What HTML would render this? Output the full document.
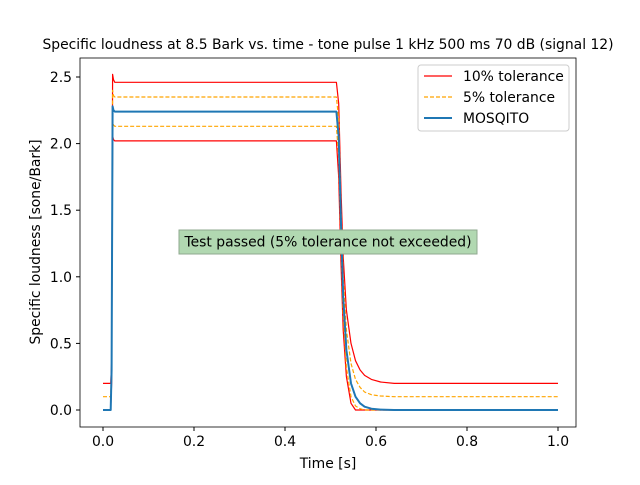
<!DOCTYPE html>
<html><head><meta charset="utf-8"><style>
body{margin:0;background:#fff}
svg{font-family:"DejaVu Sans","Liberation Sans",sans-serif}
</style></head><body>
<svg id="c" width="640" height="480" viewBox="0 0 640 480">
<rect width="640" height="480" fill="#fff"/>
<text x="328" y="49" text-anchor="middle" font-size="13.9">Specific loudness at 8.5 Bark vs. time - tone pulse 1 kHz 500 ms 70 dB (signal 12)</text>
<g id="series"></g>
<g id="axes"></g>
<rect x="80" y="58" width="496" height="369" fill="none" stroke="#000" stroke-width="0.8"/>
<text x="328" y="468" text-anchor="middle" font-size="13.9">Time [s]</text>
<text transform="translate(40,242) rotate(-90)" text-anchor="middle" font-size="13.9">Specific loudness [sone/Bark]</text>
<g>
<rect x="179" y="230" width="298" height="24" fill="#b1d8b1" stroke="#8fa88f" stroke-width="1"/>
<text x="328" y="246.5" text-anchor="middle" font-size="13.9">Test passed (5% tolerance not exceeded)</text>
</g>
<g>
<rect x="418" y="65" width="151" height="66" rx="3" fill="#fff" fill-opacity="0.85" stroke="#ccc"/>
<line x1="424" y1="76" x2="452" y2="76" stroke="#f00" stroke-width="1.2"/>
<text x="463" y="81" font-size="13.9">10% tolerance</text>
<line x1="424" y1="97" x2="452" y2="97" stroke="orange" stroke-width="1.2" stroke-dasharray="4,2"/>
<text x="463" y="102" font-size="13.9">5% tolerance</text>
<line x1="424" y1="118" x2="452" y2="118" stroke="#1f77b4" stroke-width="2"/>
<text x="463" y="123" font-size="13.9">MOSQITO</text>
</g>
</svg>
<script>
const times=[0,0.017,0.019,0.021,0.023,0.026,0.03,0.04,0.513,0.518,0.523,0.528,0.535,0.545,0.555,0.565,0.575,0.59,0.61,0.64,0.7,1.0];
const mosqito=[0,0,0.3,2.28,2.25,2.24,2.24,2.24,2.24,2.05,1.4,0.85,0.45,0.2,0.1,0.05,0.025,0.01,0.003,0,0,0];
const upper10=[0.2,0.2,0.35,2.52,2.48,2.46,2.46,2.46,2.46,2.3,1.65,1.15,0.75,0.5,0.37,0.3,0.26,0.23,0.21,0.2,0.2,0.2];
const lower10=[0,0,0.2,2.06,2.03,2.02,2.02,2.02,2.02,1.75,1.1,0.6,0.25,0.05,0,0,0,0,0,0,0,0];
const upper5=[0.1,0.1,0.3,2.4,2.36,2.35,2.35,2.35,2.35,2.18,1.5,1.0,0.6,0.35,0.23,0.17,0.135,0.115,0.105,0.1,0.1,0.1];
const lower5=[0,0,0.25,2.17,2.14,2.13,2.13,2.13,2.13,1.9,1.25,0.72,0.32,0.1,0.03,0.01,0,0,0,0,0,0];
const xTicks=[0,0.2,0.4,0.6,0.8,1.0];
const xTickLabels=["0.0","0.2","0.4","0.6","0.8","1.0"];
const yTicks=[0,0.5,1.0,1.5,2.0,2.5];
const yTickLabels=["0.0","0.5","1.0","1.5","2.0","2.5"];
const xs=t=>103+t*455, ys=v=>410-v*133.2;
const NS="http://www.w3.org/2000/svg";
const sg=document.getElementById('series'), ag=document.getElementById('axes');
function line(vals,color,w,dash,name){
  const p=document.createElementNS(NS,'path');
  p.setAttribute('d',vals.map((v,i)=>(i?'L':'M')+xs(times[i]).toFixed(1)+','+ys(v).toFixed(1)).join(''));
  p.setAttribute('fill','none');p.setAttribute('stroke',color);p.setAttribute('stroke-width',w);
  p.setAttribute('stroke-linejoin','round');
  if(dash)p.setAttribute('stroke-dasharray',dash);
  
  
  sg.appendChild(p);
}
line(upper10,'#f00',1.2,null,'upper-10pct-line');
line(lower10,'#f00',1.2,null,'lower-10pct-line');
line(upper5,'orange',1.2,'4,2','upper-5pct-line');
line(lower5,'orange',1.2,'4,2','lower-5pct-line');
line(mosqito,'#1f77b4',2,null,'mosqito-line');
xTicks.forEach((t,i)=>{
  const x=xs(t);
  const l=document.createElementNS(NS,'line');
  l.setAttribute('x1',x);l.setAttribute('x2',x);l.setAttribute('y1',427);l.setAttribute('y2',431);l.setAttribute('stroke','#000');
  
  
  ag.appendChild(l);
  const tx=document.createElementNS(NS,'text');
  tx.setAttribute('x',x);tx.setAttribute('y',446);tx.setAttribute('text-anchor','middle');tx.setAttribute('font-size','13.9');
  tx.textContent=xTickLabels[i];
  
  
  ag.appendChild(tx);
});
yTicks.forEach((v,i)=>{
  const y=ys(v);
  const l=document.createElementNS(NS,'line');
  l.setAttribute('x1',76);l.setAttribute('x2',80);l.setAttribute('y1',y);l.setAttribute('y2',y);l.setAttribute('stroke','#000');
  
  
  ag.appendChild(l);
  const tx=document.createElementNS(NS,'text');
  tx.setAttribute('x',72);tx.setAttribute('y',y+5);tx.setAttribute('text-anchor','end');tx.setAttribute('font-size','13.9');
  tx.textContent=yTickLabels[i];
  
  
  ag.appendChild(tx);
});
</script>
</body></html>
